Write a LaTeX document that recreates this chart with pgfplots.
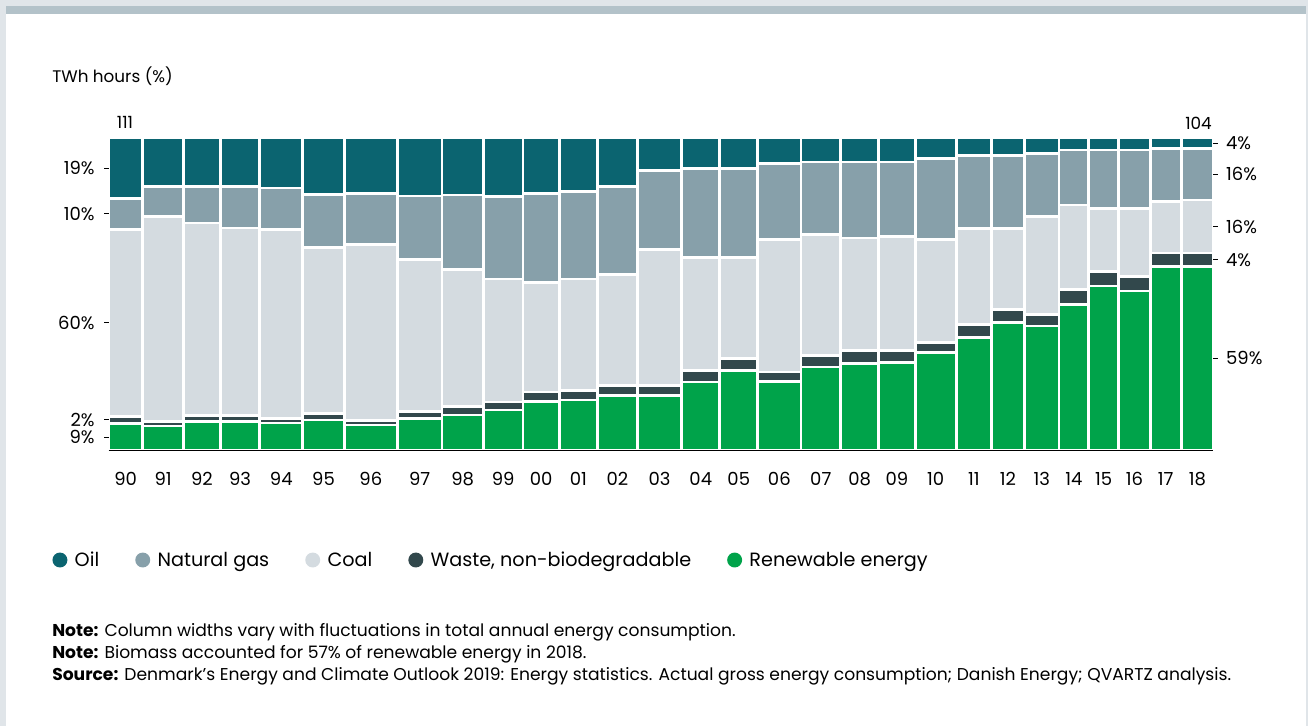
\documentclass[border=0pt]{standalone}
\usepackage{pgfplots}
\usepackage{pgfplotstable}
\pgfplotsset{compat=1.18}
\usepackage{fontspec}
\setmainfont{Poppins}
\definecolor{oilc}{HTML}{0B6470}
\definecolor{gasc}{HTML}{87A0AA}
\definecolor{coalc}{HTML}{D4DBE0}
\definecolor{wastec}{HTML}{32484C}
\definecolor{renc}{HTML}{00A34A}
\definecolor{framec}{HTML}{E0E5E9}
\definecolor{bandc}{HTML}{B3C2C9}
\definecolor{txt}{HTML}{1E1E1E}

% pos = cumulative column position (column widths ~ annual consumption), shares in %
\pgfplotstableread{
pos    ren  waste coal gas  oil
0      8.7  2.2  59.9  9.9 19.3
34     7.8  1.4  65.7  9.6 15.5
75     9.2  2.1  61.5 11.7 15.5
111.6  9.2  2.1  59.9 13.3 15.5
151.1  8.8  1.5  60.5 13.2 16.0
194    9.8  2.1  53.0 17.0 18.1
235.6  8.2  1.5  56.3 16.3 17.7
288.6 10.3  2.1  48.8 20.2 18.6
333.3 11.4  2.6  44.0 23.8 18.2
374.5 13.0  2.5  39.4 26.4 18.7
414.3 15.6  3.1  35.0 28.6 17.7
450.6 16.2  3.1  35.6 27.9 17.2
488.8 17.7  3.2  35.5 28.0 15.6
528.5 17.7  3.2  43.5 25.3 10.3
573   21.9  3.6  36.2 28.5  9.8
611.1 25.7  3.7  32.3 28.5  9.8
649   22.0  3.1  42.5 24.3  8.1
692.3 26.7  3.6  38.9 23.1  7.7
731.8 27.8  4.2  36.0 24.3  7.7
770   28.2  3.7  36.6 23.8  7.7
806.5 31.4  3.1  33.1 25.9  6.5
847.6 36.2  4.2  30.7 23.4  5.5
882.6 40.9  4.2  26.0 23.4  5.5
915.8 39.8  3.8  31.2 20.3  4.9
950.2 46.8  4.7  27.1 17.6  3.8
980   52.6  4.6  20.3 18.7  3.8
1010  51.0  4.7  21.8 18.7  3.8
1041.5 58.9 4.3  16.5 17.0  3.3
1072.6 58.9 4.3  17.0 16.5  3.3
1104.6 0    0     0    0    0
}\datatable

\begin{document}
\begin{tikzpicture}[x=0.75pt, y=-0.75pt, font=\color{txt}]
\path[use as bounding box] (0,0) rectangle (1308,726);
\fill[framec] (0,0) rectangle (1308,726);
\fill[white] (6,14) rectangle (1306,726);
\fill[bandc] (6,6) rectangle (1306,14);
\coordinate (O) at (108.7,450.5);

\node[anchor=base west, inner sep=0pt, font=\fontsize{12.6pt}{15pt}\selectfont] at (52,82) {TWh hours (\%)};
\node[anchor=base, inner sep=0pt, font=\fontsize{12.6pt}{15pt}\selectfont] at (125,128) {111};
\node[anchor=base east, inner sep=0pt, font=\fontsize{12.6pt}{15pt}\selectfont] at (1212,129) {104};

\begin{axis}[
  at={(O)}, anchor=south west,
  scale only axis, width=828.45pt, height=234.375pt,
  xmin=0, xmax=1104.6, ymin=0, ymax=100,
  enlargelimits=false, clip=false,
  axis on top,
  axis x line*=bottom, axis y line*=left,
  x axis line style={line width=0.9pt, draw=black},
  y axis line style={draw=none},
  xtick={17,54.5,93.3,131.35,172.55,214.8,262.1,310.95,353.9,394.4,432.45,469.7,508.65,550.75,592.05,630.05,670.65,712.05,750.9,788.25,827.05,865.1,899.2,933,965.1,995,1025.75,1057.05,1088.6},
  xticklabels={90,91,92,93,94,95,96,97,98,99,00,01,02,03,04,05,06,07,08,09,10,11,12,13,14,15,16,17,18},
  xtick style={draw=none},
  xticklabel style={inner sep=0pt, anchor=north, yshift=-13pt, font=\fontsize{13.5pt}{16pt}\selectfont},
  ytick={4.35,9.82,40.86,75.74,90.35},
  yticklabels={9\%,2\%,60\%,10\%,19\%},
  tick align=outside, major tick length=3.4pt,
  ytick style={draw=black, line width=0.6pt},
  yticklabel style={inner sep=0pt, anchor=east, xshift=-7pt, font=\fontsize{13.5pt}{16pt}\selectfont},
  legend columns=5,
  legend style={at={(-0.0509,-0.3504)}, anchor=west, draw=none, fill=none,
    inner sep=0pt, outer sep=0pt,
    nodes={inner sep=0pt, font=\fontsize{14.4pt}{17pt}\selectfont},
    /tikz/every odd column/.append style={column sep=5.5pt},
    /tikz/every even column/.append style={column sep=27pt}},
  legend image code/.code={\fill[#1, draw=none] (5.6pt,0pt) circle (5.6pt);},
]
\addlegendimage{fill=oilc, draw=none}
\addlegendimage{fill=gasc, draw=none}
\addlegendimage{fill=coalc, draw=none}
\addlegendimage{fill=wastec, draw=none}
\addlegendimage{fill=renc, draw=none}
\legend{Oil, Natural gas, Coal, {Waste, non-biodegradable}, Renewable energy}

\addplot[ybar interval, fill=oilc, draw=white, line width=2pt]
  table[x=pos, y expr=\thisrow{ren}+\thisrow{waste}+\thisrow{coal}+\thisrow{gas}+\thisrow{oil}] {\datatable};
\addplot[ybar interval, fill=gasc, draw=white, line width=2pt]
  table[x=pos, y expr=\thisrow{ren}+\thisrow{waste}+\thisrow{coal}+\thisrow{gas}] {\datatable};
\addplot[ybar interval, fill=coalc, draw=white, line width=2pt]
  table[x=pos, y expr=\thisrow{ren}+\thisrow{waste}+\thisrow{coal}] {\datatable};
\addplot[ybar interval, fill=wastec, draw=white, line width=2pt]
  table[x=pos, y expr=\thisrow{ren}+\thisrow{waste}] {\datatable};
\addplot[ybar interval, fill=renc, draw=white, line width=2pt]
  table[x=pos, y=ren] {\datatable};
\end{axis}

\begin{axis}[
  at={(O)}, anchor=south west,
  scale only axis, width=828.45pt, height=234.375pt,
  xmin=0, xmax=1104.6, ymin=0, ymax=100,
  hide x axis,
  axis y line*=right,
  y axis line style={draw=none},
  ytick={29.47,61.07,71.68,88.43,98.35},
  yticklabels={59\%,4\%,16\%,16\%,4\%},
  tick align=outside, major tick length=3.4pt,
  ytick style={draw=black, line width=0.6pt},
  yticklabel style={inner sep=0pt, anchor=west, xshift=6pt, font=\fontsize{13.5pt}{16pt}\selectfont},
]
\end{axis}

\begin{scope}[font=\fontsize{12.85pt}{15pt}\selectfont]
\node[anchor=base west, inner sep=0pt] at (52,636) {\textbf{Note:} Column widths vary with fluctuations in total annual energy consumption.};
\node[anchor=base west, inner sep=0pt] at (52,658) {\textbf{Note:} Biomass accounted for 57\% of renewable energy in 2018.};
\node[anchor=base west, inner sep=0pt] at (52,680) {\textbf{Source:} Denmark’s Energy and Climate Outlook 2019: Energy statistics. Actual gross energy consumption; Danish Energy; QVARTZ analysis.};
\end{scope}
\end{tikzpicture}
\end{document}
